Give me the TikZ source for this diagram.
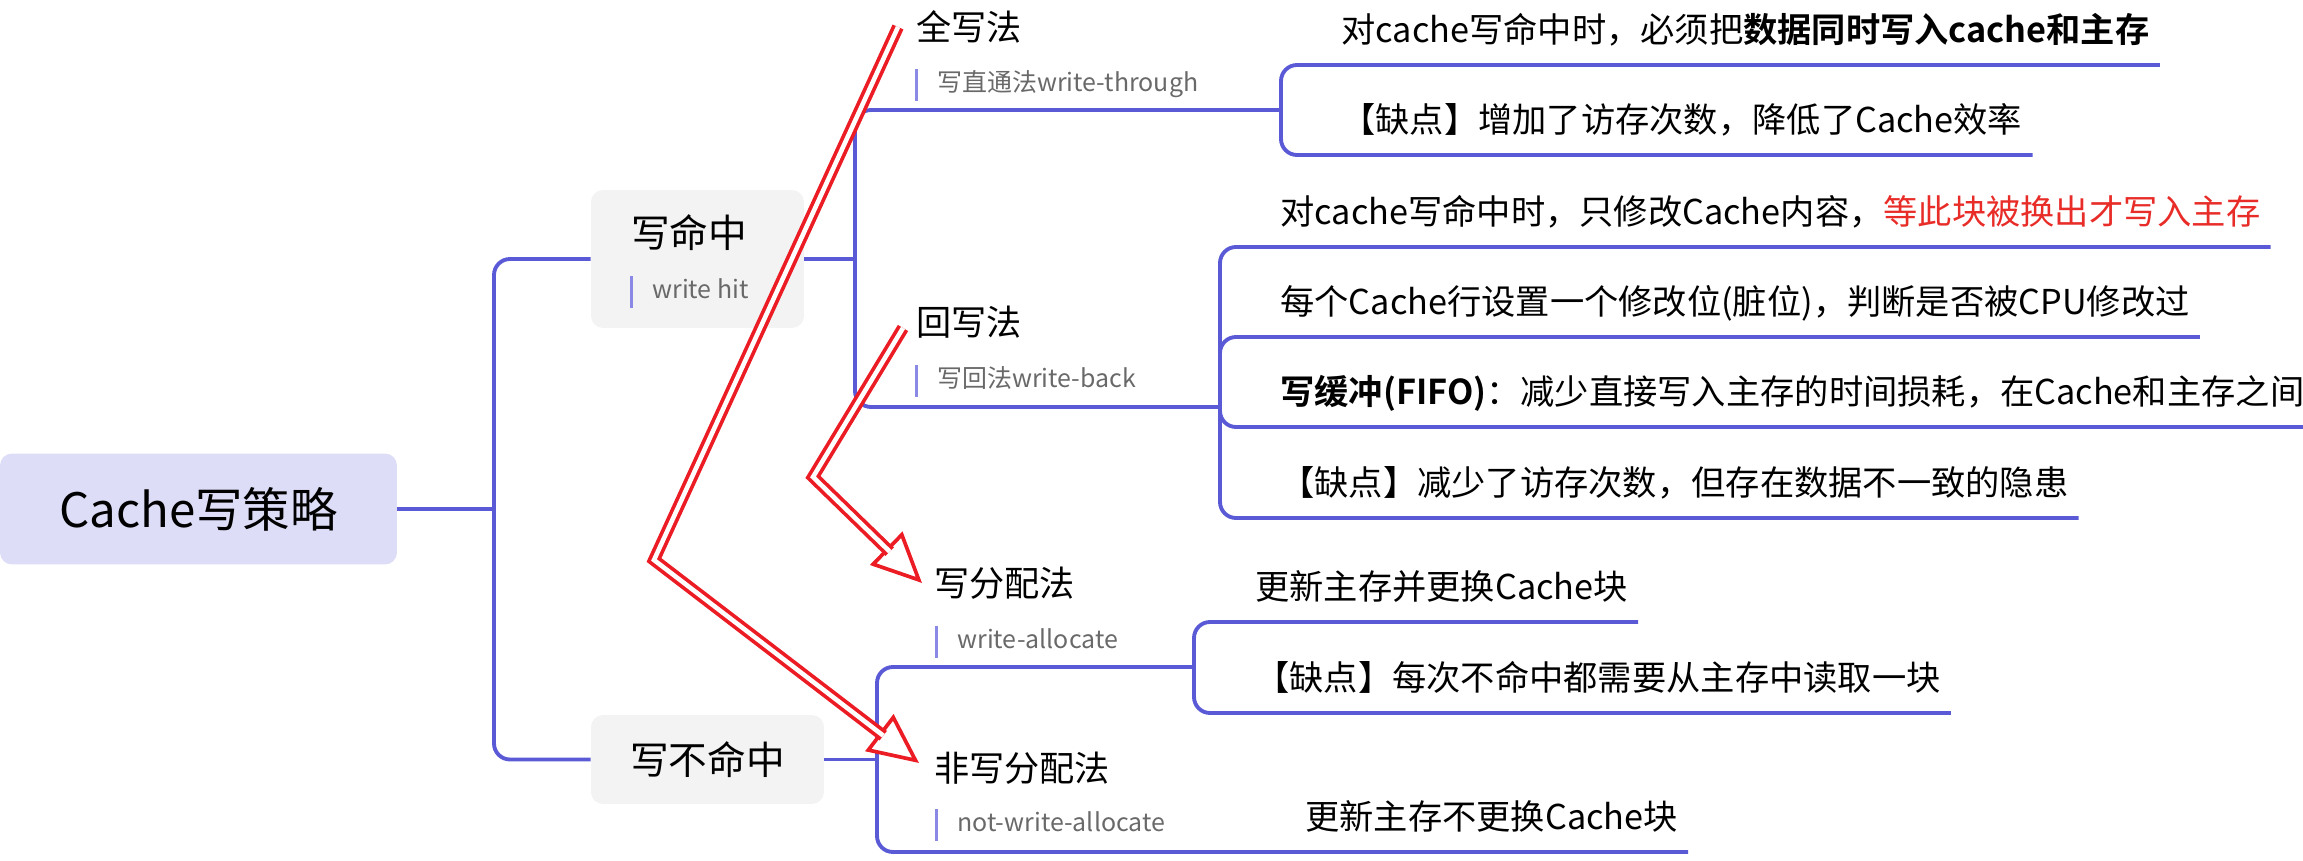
\documentclass[tikz,border=0pt]{standalone}
\usepackage{fontspec}
\setmainfont{Noto Sans CJK SC}[BoldFont={Noto Sans CJK SC Bold}]
\usetikzlibrary{arrows.meta}
\definecolor{branchblue}{RGB}{90,90,215}
\definecolor{barblue}{RGB}{138,138,230}
\definecolor{rootfill}{RGB}{221,221,247}
\definecolor{topicfill}{RGB}{243,243,243}
\definecolor{taggray}{RGB}{105,105,105}
\definecolor{notered}{RGB}{232,44,40}
\definecolor{markred}{RGB}{236,28,36}

\begin{document}
\begin{tikzpicture}[
        x=0.02cm, y=-0.02cm,
        branch/.style={draw=branchblue, line width=2.2pt, rounded corners=0.32cm},
        rootbox/.style={rectangle, fill=rootfill, rounded corners=0.24cm, minimum width=7.94cm, minimum height=2.22cm, font=\fontsize{27}{32}\selectfont},
        topic/.style={rectangle, fill=topicfill, rounded corners=0.24cm, inner sep=0pt, font=\fontsize{22}{26}\selectfont},
        method/.style={anchor=west, inner sep=0pt, font=\fontsize{20}{24}\selectfont},
        tagbar/.style={fill=barblue, inner sep=0pt, minimum width=0.06cm, minimum height=0.64cm},
        subtag/.style={anchor=west, inner sep=0pt, text height=10pt, text depth=3pt, text=taggray, font=\fontsize{14.2}{17}\selectfont, label={[tagbar, label distance=0.38cm]left:{}}},
        leaf/.style={anchor=south west, inner xsep=0.2cm, inner ysep=7.5pt, text height=16.5pt, text depth=5pt, font=\fontsize{19.5}{23}\selectfont},
        redhead/.style={draw=markred, line width=2.1pt, -{Triangle[open, fill=white, length=1.0cm, width=0.92cm]}},
        redshaft/.style={draw=markred, line width=2.1pt, double=white, double distance=2.6pt, shorten >=0.9cm}
    ]
    \useasboundingbox (0,0) rectangle (2303,861);

    % root and the two cases
    \node[rootbox] (root) at (198.5,509) {Cache写策略};
    \node[topic, align=left, text width=2.66cm, inner xsep=0.8cm, text height=1.16cm, text depth=1.6cm] (hit) at (697.5,259) {写命中};
    \node[subtag] (hittag) at (652,292) {write hit};
    \node[topic, minimum width=4.66cm, minimum height=1.78cm] (miss) at (707.5,759.5) {写不命中};

    % methods
    \node[method] (through) at (916,27) {全写法};
    \node[subtag] (throughtag) at (937,85) {写直通法write-through};
    \node[method] (back) at (916,322) {回写法};
    \node[subtag] (backtag) at (937,381) {写回法write-back};
    \node[method] (alloc) at (934,583) {写分配法};
    \node[subtag] (alloctag) at (957,642) {write-allocate};
    \node[method] (noalloc) at (934,768) {非写分配法};
    \node[subtag] (noalloctag) at (957,825) {not-write-allocate};

    % details
    \node[leaf] (through1) at (1331,65) {对cache写命中时，必须把\textbf{数据同时写入cache和主存}};
    \node[leaf] (through2) at (1331,155) {【缺点】增加了访存次数，降低了Cache效率};
    \node[leaf] (back1) at (1270,247) {对cache写命中时，只修改Cache内容，\textcolor{notered}{等此块被换出才写入主存}};
    \node[leaf] (back2) at (1270,337) {每个Cache行设置一个修改位(脏位)，判断是否被CPU修改过};
    \node[leaf] (back3) at (1270,427) {\textbf{写缓冲(FIFO)}：减少直接写入主存的时间损耗，在Cache和主存之间};
    \node[leaf] (back4) at (1270,518) {【缺点】减少了访存次数，但存在数据不一致的隐患};
    \node[leaf] (alloc1) at (1245,622) {更新主存并更换Cache块};
    \node[leaf] (alloc2) at (1245,713) {【缺点】每次不命中都需要从主存中读取一块};
    \node[leaf] (noalloc1) at (1295,852) {更新主存不更换Cache块};

    \coordinate (rootjoin) at (494,509);
    \coordinate (hitjoin) at (855,259);
    \coordinate (missjoin) at (877,759.5);
    \coordinate (throughjoin) at (1281,110);
    \coordinate (backjoin) at (1220,407);
    \coordinate (allocjoin) at (1194,667);

    \draw[branch] (root.east) -- (rootjoin);
    \draw[branch] (hit.west) -| (rootjoin) |- (miss.west);
    \draw[branch] (hit.east) -- (hitjoin);
    \draw[branch] (throughjoin) -| (hitjoin) |- (backjoin);
    \draw[branch] (through1.south east) -| (throughjoin) |- (through2.south east);
    \draw[branch] (back1.south east) -| (backjoin) |- (back4.south east);
    \draw[branch] (back2.south east) -| (backjoin);
    \draw[branch] (back3.south east) -| (backjoin);
    \draw[branch] (miss.east) -- (missjoin);
    \draw[branch] (allocjoin) -| (missjoin) |- (noalloc1.south east);
    \draw[branch] (alloc1.south east) -| (allocjoin) |- (alloc2.south east);

    % red marks
    \coordinate (bendA) at (654,560);
    \coordinate (bendB) at (813,477);
    \coordinate (tipA) at ([xshift=-0.3cm,yshift=0.1cm]noalloc.west);
    \coordinate (tipB) at ([xshift=-0.24cm]alloc.west);
    \draw[redhead] (bendA) -- (tipA);
    \draw[redshaft] ([xshift=-0.36cm]through.west) -- (bendA) -- (tipA);
    \draw[redhead] (bendB) -- (tipB);
    \draw[redshaft] ([xshift=-0.26cm,yshift=-0.12cm]back.west) -- (bendB) -- (tipB);
\end{tikzpicture}
\end{document}
